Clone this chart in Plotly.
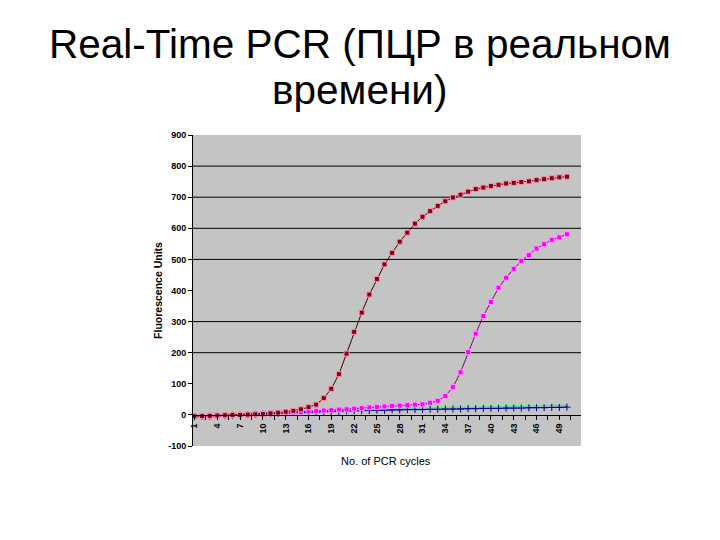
import plotly.graph_objects as go

cycles = list(range(1, 51))

sample_a = [-4, -4, -3, -2, -1, 0, 0, 1, 2, 3, 5, 7, 10, 13, 18, 25, 33, 54, 84, 131,
            197, 267, 329, 387, 437, 484, 521, 557, 586, 615, 637, 655, 672, 687, 699, 708, 718, 726, 731, 736,
            740, 744, 746, 749, 751, 755, 758, 761, 764, 766]
sample_b = [-5, -4, -3, -2, -1, 0, 1, 2, 3, 4, 5, 6, 7, 8, 9, 11, 12, 14, 15, 17,
            18, 20, 22, 24, 25, 27, 29, 30, 31, 33, 34, 39, 45, 61, 89, 137, 202, 261, 318, 363,
            409, 441, 470, 495, 514, 535, 549, 563, 571, 581]
sample_c = [-6, -5, -4, -3, -2, -1, 0, 1, 2, 3, 4, 5, 6, 7, 8, 9, 10, 11, 11, 12,
            13, 13, 14, 14, 15, 15, 16, 16, 17, 17, 17, 18, 18, 19, 19, 19, 20, 20, 21, 21,
            21, 22, 22, 22, 23, 23, 23, 24, 24, 25]
sample_d = [-3, -2, -1, 0, 1, 2, 3, 4, 5, 6, 7, 8, 9, 10, 11, 12, 13, 14, 15, 16,
            16, 17, 17, 18, 18, 19, 19, 20, 20, 21, 21, 22, 22, 23, 23, 24, 24, 25, 25, 26,
            26, 27, 27, 28, 28, 29, 29, 30, 30, 31]
sample_e = [-25, -3, -2, -1, 0, 1, 2, 3, 4, 5, 6, 7, 8, 9, 10, 11, 12, 13, 14, 15,
            16, 17, 18, 19, 20, 21, 22, 23, 24, 25, 26, 27, 28, 29, 30, 30, 31, 31, 32, 32,
            33, 33, 34, 34, 35, 35, 36, 36, 37, 37]

x_tick_vals = list(range(1, 51, 3))
x_tick_text = [str(v) for v in x_tick_vals]
y_tick_vals = list(range(-100, 901, 100))
y_tick_text = [str(v) for v in y_tick_vals]
grid_values = [200, 300, 500, 600, 700, 800]

title_line1 = "Real-Time PCR (ПЦР в реальном"
title_line2 = "времени)"
y_title = "Fluorescence Units"
x_title = "No. of PCR cycles"

fig = go.Figure()

fig.add_trace(go.Scatter(x=cycles, y=sample_e, mode="lines",
                         line=dict(color="#99E699", width=1.5), showlegend=False))
fig.add_trace(go.Scatter(x=cycles, y=sample_d, mode="lines",
                         line=dict(color="#66CCCC", width=1.5), showlegend=False))
fig.add_trace(go.Scatter(x=cycles, y=sample_c, mode="lines+markers",
                         line=dict(color="#0000CC", width=1),
                         marker=dict(symbol="cross-thin", size=5,
                                     line=dict(color="#000080", width=1)),
                         showlegend=False))
fig.add_trace(go.Scatter(x=cycles, y=sample_b, mode="lines+markers",
                         line=dict(color="#800080", width=1),
                         marker=dict(symbol="square", size=5, color="#FF00FF",
                                     line=dict(color="#FF99FF", width=1)),
                         showlegend=False))
fig.add_trace(go.Scatter(x=cycles, y=sample_a, mode="lines+markers",
                         line=dict(color="#400000", width=1),
                         marker=dict(symbol="square", size=5, color="#800020",
                                     line=dict(color="#FF8FA0", width=1)),
                         showlegend=False))

for g in grid_values:
    fig.add_shape(type="line", xref="paper", x0=0, x1=1, yref="y", y0=g, y1=g,
                  line=dict(color="black", width=1), layer="below")

tick_font = dict(family="Liberation Sans, Arial", size=9, color="black", weight="bold")
title_font = dict(family="Liberation Sans, Arial", size=40.5, color="black")

fig.update_layout(
    width=720, height=540,
    paper_bgcolor="white", plot_bgcolor="#C4C4C4",
    margin=dict(l=185, r=147, t=127, b=102, autoexpand=False),
    xaxis=dict(range=[0.8, 51.85], tickvals=x_tick_vals, ticktext=x_tick_text,
               tickangle=-90, tickfont=tick_font, ticks="outside", ticklen=4,
               tickcolor="black", showgrid=False, zeroline=False,
               showline=True, linecolor="black", linewidth=1,
               anchor="free", position=0.1, automargin=False,
               minor=dict(dtick=1.5, tick0=2.5, ticks="outside", ticklen=4,
                          tickcolor="black", showgrid=False)),
    yaxis=dict(range=[-100, 900], tickvals=y_tick_vals, ticktext=y_tick_text,
               tickfont=tick_font, ticks="outside", ticklen=4, tickcolor="black",
               showgrid=False, zeroline=False, showline=True, linecolor="black",
               linewidth=1, automargin=False,
               title=dict(text=y_title, standoff=3,
                          font=dict(family="Liberation Sans, Arial", size=10.5,
                                    color="black", weight="bold"))),
    annotations=[
        dict(text=title_line1, xref="paper", yref="paper", x=0.43, y=1.373,
             xanchor="center", yanchor="top", showarrow=False,
             font=title_font),
        dict(text=title_line2, xref="paper", yref="paper", x=0.43, y=1.225,
             xanchor="center", yanchor="top", showarrow=False,
             font=title_font),
        dict(text=x_title, xref="paper", yref="paper", x=0.497, y=-0.048,
             xanchor="center", yanchor="middle", showarrow=False,
             font=dict(family="Liberation Sans, Arial", size=11, color="black")),
    ],
)

fig.write_html("out.html")
